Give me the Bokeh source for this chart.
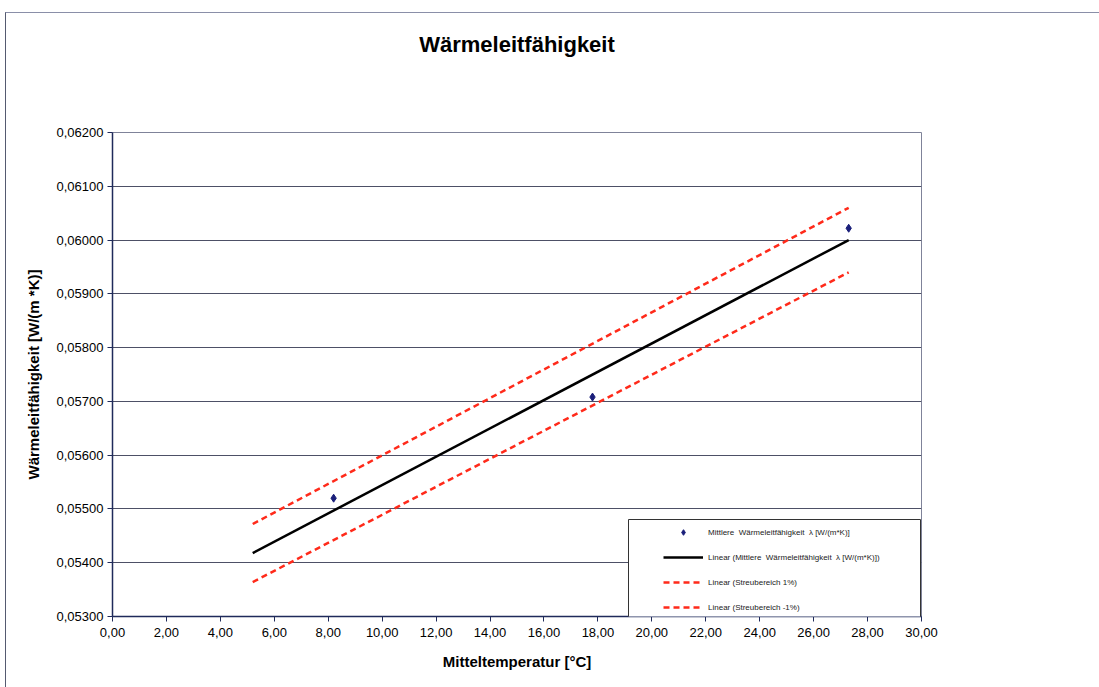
from bokeh.plotting import figure
from bokeh.models import (Range1d, FixedTicker, CustomJSTickFormatter, LinearAxis,
                          BoxAnnotation, Legend, LegendItem, InlineStyleSheet)
from bokeh.embed import file_html
from bokeh.resources import INLINE

# ---- data ----
temps = [8.2, 17.8, 27.3]
conductivity = [0.05520, 0.05708, 0.06022]
trend_x = [5.2, 27.3]
trend_y = [0.05418, 0.06000]
upper_y = [0.05472, 0.06060]
lower_y = [0.05364, 0.05940]
x_ticks = [0, 2, 4, 6, 8, 10, 12, 14, 16, 18, 20, 22, 24, 26, 28, 30]
y_ticks = [0.053, 0.054, 0.055, 0.056, 0.057, 0.058, 0.059, 0.060, 0.061, 0.062]
chart_title = "Wärmeleitfähigkeit"

FONT = "Liberation Sans"
FL, FB = 112, 616  # frame left / bottom in canvas pixels (screen units are frame-relative)

p = figure(width=1099, height=687, output_backend="svg", toolbar_location=None,
           x_range=Range1d(0, 30), y_range=Range1d(0.053, 0.062),
           min_border_left=112, min_border_right=178,
           min_border_top=132, min_border_bottom=71)
p.background_fill_color = "white"
p.border_fill_color = "white"
p.outline_line_color = "#7f8399"
p.outline_line_width = 1

# title drawn as the label of an invisible top axis (placed outside the frame)
title_axis = LinearAxis(ticker=FixedTicker(ticks=[]),
                        axis_line_color=None, major_tick_line_color=None,
                        minor_tick_line_color=None, major_label_text_color=None,
                        axis_label=chart_title, axis_label_standoff=70,
                        axis_label_text_font=FONT, axis_label_text_font_style="bold",
                        axis_label_text_font_size="22px", axis_label_text_color="black")
p.add_layout(title_axis, "above")

# page border (CSS, outside the plot frame)
p.stylesheets = [InlineStyleSheet(css="""
:host { position: relative; }
:host::after { content: ''; position: absolute; left: 5px; top: 12px;
  width: 1094px; height: 675px; box-sizing: border-box;
  border-top: 1.5px solid #8a8fa8; border-left: 1.5px solid #555a70;
  pointer-events: none; }
""")]

# grid
p.xgrid.visible = False
p.ygrid.ticker = FixedTicker(ticks=y_ticks)
p.ygrid.grid_line_color = "#4d5066"
p.ygrid.grid_line_width = 1

# axes
p.xaxis.ticker = FixedTicker(ticks=x_ticks)
p.yaxis.ticker = FixedTicker(ticks=y_ticks)
p.xaxis.formatter = CustomJSTickFormatter(code="return tick.toFixed(2).replace('.', ',');")
p.yaxis.formatter = CustomJSTickFormatter(code="return tick.toFixed(5).replace('.', ',');")
for ax in (p.below[0], p.left[0]):
    ax.axis_line_color = "#1f2a5a"
    ax.axis_line_width = 1.5
    ax.major_tick_line_color = "#1f2a5a"
    ax.major_tick_out = 5
    ax.major_tick_in = 0
    ax.minor_tick_line_color = None
    ax.major_label_text_font = FONT
    ax.major_label_text_font_size = "13px"
    ax.major_label_text_color = "black"
    ax.axis_label_text_font = FONT
    ax.axis_label_text_font_style = "bold"
    ax.axis_label_text_font_size = "15px"
    ax.axis_label_text_color = "black"
p.below[0].axis_label = "Mitteltemperatur [°C]"
p.left[0].axis_label = "Wärmeleitfähigkeit [W/(m *K)]"
p.below[0].axis_label_standoff = 13
p.left[0].axis_label_standoff = 12
p.below[0].major_label_standoff = 6
p.left[0].major_label_standoff = 4

# glyphs
r_up = p.line(trend_x, upper_y, line_color="#ff2a1a", line_width=2.5, line_dash="6 4")
r_lo = p.line(trend_x, lower_y, line_color="#ff2a1a", line_width=2.5, line_dash="6 4")
r_tr = p.line(trend_x, trend_y, line_color="black", line_width=2.5)
r_pts = p.scatter(temps, conductivity, marker="diamond", size=8,
                  fill_color="#1a1f7a", line_color="#1a1f7a")

# legend box (frame-relative screen units, y up)
box = BoxAnnotation(left=628 - FL, right=920 - FL, top=FB - 519, bottom=FB - 621,
                    left_units="screen", right_units="screen",
                    top_units="screen", bottom_units="screen",
                    fill_color="white", fill_alpha=1.0,
                    line_color="#333333", line_alpha=1.0, line_width=1)
p.add_layout(box)

legend = Legend(items=[
    LegendItem(label="Mittlere  Wärmeleitfähigkeit  λ [W/(m*K)]", renderers=[r_pts]),
    LegendItem(label="Linear (Mittlere  Wärmeleitfähigkeit  λ [W/(m*K)])", renderers=[r_tr]),
    LegendItem(label="Linear (Streubereich 1%)", renderers=[r_up]),
    LegendItem(label="Linear (Streubereich -1%)", renderers=[r_lo]),
], location=(551, 2))
legend.background_fill_alpha = 0
legend.border_line_color = None
legend.padding = 0
legend.margin = 0
legend.glyph_width = 40
legend.glyph_height = 14
legend.label_height = 14
legend.spacing = 11
legend.label_standoff = 5
legend.label_text_font = FONT
legend.label_text_font_size = "8px"
legend.label_text_color = "#222222"
p.add_layout(legend, "center")

open("out.html", "w").write(file_html(p, INLINE))
